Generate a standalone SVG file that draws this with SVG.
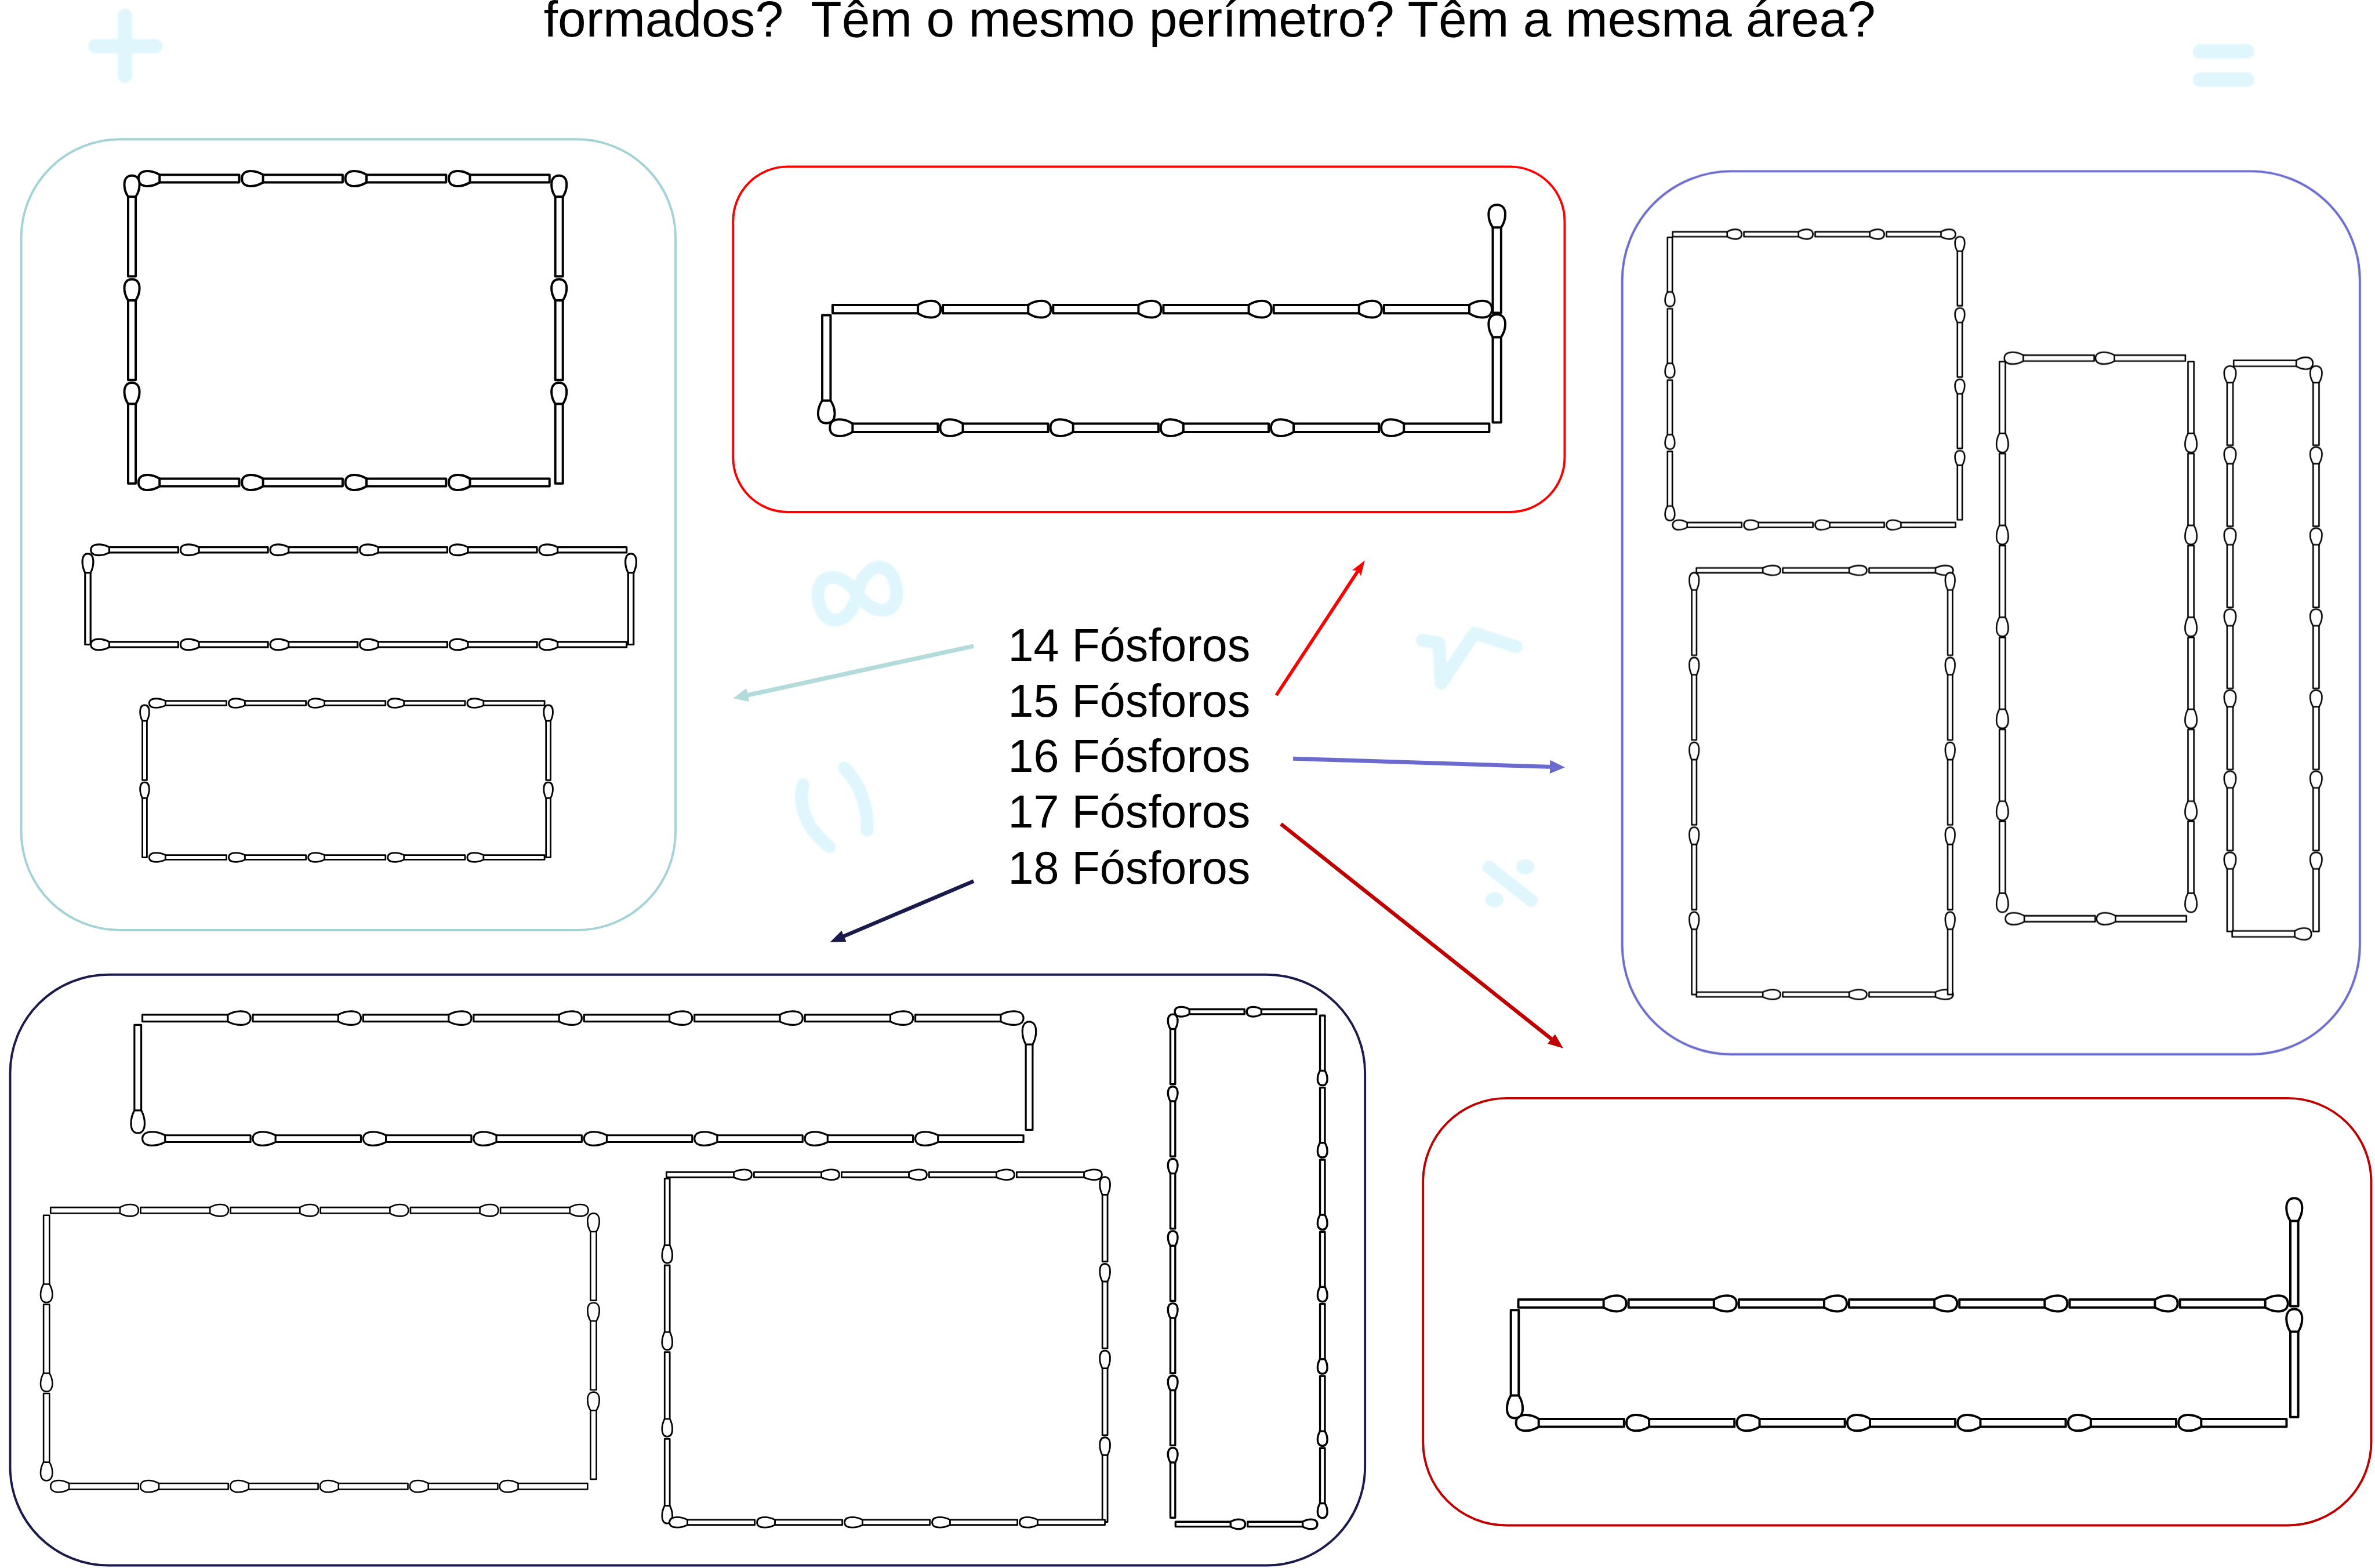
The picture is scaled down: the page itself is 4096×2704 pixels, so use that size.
<svg xmlns="http://www.w3.org/2000/svg" width="4096" height="2704" viewBox="0 0 4096 2704">
<defs>
<style>
  .sym{fill:none;stroke:#DFF6FD;stroke-linecap:round;stroke-linejoin:round}
  .dot{fill:#DFF6FD}
  .box{fill:none;stroke-width:1.5}
  .lbl{font-family:"Liberation Sans",Arial,sans-serif;font-size:30.3px;fill:#000}
  .ttl{font-family:"Liberation Sans",Arial,sans-serif;font-size:33.5px;fill:#000;white-space:pre}
  .fig{fill:#fff;stroke:#000;stroke-linejoin:round}
  .ln{fill:none}
</style>
<filter id="soft" x="-10%" y="-10%" width="120%" height="120%"><feGaussianBlur stdDeviation="0.5"/></filter>

<!-- one match: head at x=0, stick to x=100, thickness 10 (unit space) -->
<g id="m">
  <rect x="20" y="-5" width="80" height="10" vector-effect="non-scaling-stroke"/>
  <path d="M21,-5 C17,-8.5 13,-10 9,-10 C3,-10 0,-6 0,0 C0,6 3,10 9,10 C13,10 17,8.5 21,5 Z" vector-effect="non-scaling-stroke"/>
</g>

<!-- sized variants: l = head left, r = head right, t = head on top, b = head at bottom -->
<g id="A1l"><use href="#m" transform="scale(.665,.5)"/></g>
<g id="A1t"><use href="#m" transform="rotate(90) scale(.665,.5)"/></g>
<g id="A2l"><use href="#m" transform="scale(.577,.36)"/></g>
<g id="A2t"><use href="#m" transform="rotate(90) scale(.60,.36)"/></g>
<g id="A3l"><use href="#m" transform="scale(.51,.30)"/></g>
<g id="A3t"><use href="#m" transform="rotate(90) scale(.495,.30)"/></g>

<g id="Bl"><use href="#m" transform="scale(.713,.55)"/></g>
<g id="Br"><use href="#m" transform="scale(-.713,.55)"/></g>
<g id="Bt"><use href="#m" transform="rotate(90) scale(.713,.55)"/></g>
<g id="Bb"><use href="#m" transform="rotate(-90) scale(.713,.55)"/></g>

<g id="C1l"><use href="#m" transform="scale(.456,.32)"/></g>
<g id="C1r"><use href="#m" transform="scale(-.456,.32)"/></g>
<g id="C1t"><use href="#m" transform="rotate(90) scale(.456,.32)"/></g>
<g id="C1b"><use href="#m" transform="rotate(-90) scale(.456,.32)"/></g>
<g id="C2r"><use href="#m" transform="scale(-.555,.32)"/></g>
<g id="C2t"><use href="#m" transform="rotate(90) scale(.545,.32)"/></g>
<g id="C3l"><use href="#m" transform="scale(.593,.39)"/></g>
<g id="C3b"><use href="#m" transform="rotate(-90) scale(.60,.39)"/></g>
<g id="C4r"><use href="#m" transform="scale(-.523,.39)"/></g>
<g id="C4t"><use href="#m" transform="rotate(90) scale(.523,.39)"/></g>

<g id="Dl"><use href="#m" transform="scale(.713,.52)"/></g>
<g id="Dr"><use href="#m" transform="scale(-.713,.52)"/></g>
<g id="Dt"><use href="#m" transform="rotate(90) scale(.713,.52)"/></g>
<g id="Db"><use href="#m" transform="rotate(-90) scale(.713,.52)"/></g>

<g id="E1l"><use href="#m" transform="scale(.714,.45)"/></g>
<g id="E1r"><use href="#m" transform="scale(-.714,.45)"/></g>
<g id="E1t"><use href="#m" transform="rotate(90) scale(.714,.45)"/></g>
<g id="E1b"><use href="#m" transform="rotate(-90) scale(.714,.45)"/></g>
<g id="E2l"><use href="#m" transform="scale(.58,.39)"/></g>
<g id="E2r"><use href="#m" transform="scale(-.58,.39)"/></g>
<g id="E2t"><use href="#m" transform="rotate(90) scale(.575,.39)"/></g>
<g id="E2b"><use href="#m" transform="rotate(-90) scale(.575,.39)"/></g>
<g id="E3l"><use href="#m" transform="scale(.563,.34)"/></g>
<g id="E3r"><use href="#m" transform="scale(-.563,.34)"/></g>
<g id="E3t"><use href="#m" transform="rotate(90) scale(.558,.34)"/></g>
<g id="E3b"><use href="#m" transform="rotate(-90) scale(.558,.34)"/></g>
<g id="E4l"><use href="#m" transform="scale(.46,.32)"/></g>
<g id="E4r"><use href="#m" transform="scale(-.46,.32)"/></g>
<g id="E4t"><use href="#m" transform="rotate(90) scale(.461,.32)"/></g>
<g id="E4b"><use href="#m" transform="rotate(-90) scale(.461,.32)"/></g>

<marker id="ah-teal" viewBox="0 0 10 9" refX="5" refY="4.5" markerWidth="10" markerHeight="9" markerUnits="userSpaceOnUse" orient="auto"><path d="M0,0 L10,4.5 L0,9 Z" fill="#B3DBDC"/></marker>
<marker id="ah-red" viewBox="0 0 10 7" refX="5" refY="3.5" markerWidth="10" markerHeight="7" markerUnits="userSpaceOnUse" orient="auto"><path d="M0,0 L10,3.5 L0,7 L2,3.5 Z" fill="#FF0000"/></marker>
<marker id="ah-purple" viewBox="0 0 10 9" refX="5" refY="4.5" markerWidth="10" markerHeight="9" markerUnits="userSpaceOnUse" orient="auto"><path d="M0,0 L10,4.5 L0,9 Z" fill="#6B6BCF"/></marker>
<marker id="ah-darkred" viewBox="0 0 10 8" refX="5" refY="4" markerWidth="10" markerHeight="8" markerUnits="userSpaceOnUse" orient="auto"><path d="M0,0 L10,4 L0,8 Z" fill="#C00000"/></marker>
<marker id="ah-navy" viewBox="0 0 10 8" refX="5" refY="4" markerWidth="10" markerHeight="8" markerUnits="userSpaceOnUse" orient="auto"><path d="M0,0 L10,4 L0,8 Z" fill="#1A1A4C"/></marker>
</defs>

<rect width="4096" height="2704" fill="#fff"/>

<g transform="scale(2.612245)">

<!-- faint maths symbols in the background -->
<g id="simbolos" filter="url(#soft)">
  <path class="sym" stroke-width="9.5" d="M63,30.5 H102.5 M82.5,10.5 V50"/>
  <path class="sym" stroke-width="9.5" d="M1452.5,34 H1483.5 M1452.5,52.5 H1483.5"/>
  <path class="sym" stroke-width="8.5" transform="translate(566,392) rotate(-12)" d="M0,0 C8,-19 26,-19 26,0 C26,19 8,19 0,0 C-8,-19 -26,-19 -26,0 C-26,19 -8,19 0,0 Z"/>
  <path class="sym" stroke-width="8.5" d="M939,422.6 L950,424.5 L951.5,451 L973.5,418 L1001,427"/>
  <path class="sym" stroke-width="8.5" d="M983,572.5 L1011,594.5"/>
  <ellipse class="dot" cx="1007" cy="572.2" rx="6" ry="5"/>
  <ellipse class="dot" cx="986.6" cy="594" rx="6" ry="5"/>
  <path class="sym" stroke-width="8.5" d="M530.2,518 C527.5,530 530,545 547.5,559"/>
  <path class="sym" stroke-width="8.5" d="M557.5,507 C567,517 573,530 572.5,548"/>
</g>

<text class="ttl" x="359" y="24">formados?  Têm o mesmo perímetro? Têm a mesma área?</text>

<!-- centre list -->
<g id="lista">
  <text class="lbl" x="665.5" y="436.3">14 Fósforos</text>
  <text class="lbl" x="665.5" y="473.2">15 Fósforos</text>
  <text class="lbl" x="665.5" y="509.5">16 Fósforos</text>
  <text class="lbl" x="665.5" y="546.4">17 Fósforos</text>
  <text class="lbl" x="665.5" y="583.3">18 Fósforos</text>
</g>

<!-- 14 matches -->
<g id="no-14">
  <rect class="box" x="14" y="92" width="432" height="522" rx="65" stroke="#A3D3D6"/>
  <g class="fig" stroke-width="4.0">
    <use href="#A1l" x="91.4" y="117.9"/><use href="#A1l" x="159.7" y="117.9"/><use href="#A1l" x="228" y="117.9"/><use href="#A1l" x="296.3" y="117.9"/>
    <use href="#A1l" x="91.4" y="318.5"/><use href="#A1l" x="159.7" y="318.5"/><use href="#A1l" x="228" y="318.5"/><use href="#A1l" x="296.3" y="318.5"/>
    <use href="#A1t" x="87.1" y="115.9"/><use href="#A1t" x="87.1" y="184.3"/><use href="#A1t" x="87.1" y="252.7"/>
    <use href="#A1t" x="369.1" y="115.9"/><use href="#A1t" x="369.1" y="184.3"/><use href="#A1t" x="369.1" y="252.7"/>
  </g>
  <g class="fig" stroke-width="3.2">
    <use href="#A2l" x="60" y="363"/><use href="#A2l" x="119.2" y="363"/><use href="#A2l" x="178.4" y="363"/><use href="#A2l" x="237.6" y="363"/><use href="#A2l" x="296.8" y="363"/><use href="#A2l" x="356" y="363"/>
    <use href="#A2l" x="60" y="425.5"/><use href="#A2l" x="119.2" y="425.5"/><use href="#A2l" x="178.4" y="425.5"/><use href="#A2l" x="237.6" y="425.5"/><use href="#A2l" x="296.8" y="425.5"/><use href="#A2l" x="356" y="425.5"/>
    <use href="#A2t" x="58" y="365.5"/><use href="#A2t" x="416.5" y="365.5"/>
  </g>
  <g class="fig" stroke-width="2.8">
    <use href="#A3l" x="98.5" y="464.2"/><use href="#A3l" x="151" y="464.2"/><use href="#A3l" x="203.5" y="464.2"/><use href="#A3l" x="256" y="464.2"/><use href="#A3l" x="308.5" y="464.2"/>
    <use href="#A3l" x="98.5" y="566"/><use href="#A3l" x="151" y="566"/><use href="#A3l" x="203.5" y="566"/><use href="#A3l" x="256" y="566"/><use href="#A3l" x="308.5" y="566"/>
    <use href="#A3t" x="95.5" y="465.5"/><use href="#A3t" x="95.5" y="516.5"/>
    <use href="#A3t" x="362" y="465.5"/><use href="#A3t" x="362" y="516.5"/>
  </g>
</g>

<!-- 15 matches -->
<g id="no-15">
  <rect class="box" x="484" y="110" width="549" height="228" rx="36" stroke="#FF0000"/>
  <g class="fig" stroke-width="4.0">
    <use href="#Br" x="621" y="204.1"/><use href="#Br" x="693.8" y="204.1"/><use href="#Br" x="766.6" y="204.1"/><use href="#Br" x="839.4" y="204.1"/><use href="#Br" x="912.2" y="204.1"/><use href="#Br" x="985" y="204.1"/>
    <use href="#Bl" x="547.9" y="282.4"/><use href="#Bl" x="620.7" y="282.4"/><use href="#Bl" x="693.5" y="282.4"/><use href="#Bl" x="766.3" y="282.4"/><use href="#Bl" x="839.1" y="282.4"/><use href="#Bl" x="911.9" y="282.4"/>
    <use href="#Bb" x="545.6" y="279.4"/>
    <use href="#Bt" x="988.3" y="135.2"/><use href="#Bt" x="988.3" y="207.6"/>
  </g>
</g>

<!-- 16 matches -->
<g id="no-16">
  <rect class="box" x="1071" y="113" width="487" height="583" rx="72" stroke="#6B6BD0"/>
  <g class="fig" stroke-width="2.6">
    <use href="#C1r" x="1149.9" y="154.6"/><use href="#C1r" x="1196.95" y="154.6"/><use href="#C1r" x="1244" y="154.6"/><use href="#C1r" x="1291.05" y="154.6"/>
    <use href="#C1b" x="1102.5" y="202.3"/><use href="#C1b" x="1102.5" y="249.4"/><use href="#C1b" x="1102.5" y="296.5"/><use href="#C1b" x="1102.5" y="343.6"/>
    <use href="#C1t" x="1293.9" y="156.2"/><use href="#C1t" x="1293.9" y="203.3"/><use href="#C1t" x="1293.9" y="250.4"/><use href="#C1t" x="1293.9" y="297.5"/>
    <use href="#C1l" x="1104.3" y="346.5"/><use href="#C1l" x="1151.35" y="346.5"/><use href="#C1l" x="1198.4" y="346.5"/><use href="#C1l" x="1245.45" y="346.5"/>
  </g>
  <g class="fig" stroke-width="2.6">
    <use href="#C2r" x="1175.5" y="376.5"/><use href="#C2r" x="1232.5" y="376.5"/><use href="#C2r" x="1289.5" y="376.5"/>
    <use href="#C2r" x="1175.5" y="656.5"/><use href="#C2r" x="1232.5" y="656.5"/><use href="#C2r" x="1289.5" y="656.5"/>
    <use href="#C2t" x="1118.5" y="378"/><use href="#C2t" x="1118.5" y="434"/><use href="#C2t" x="1118.5" y="490"/><use href="#C2t" x="1118.5" y="546"/><use href="#C2t" x="1118.5" y="602"/>
    <use href="#C2t" x="1287.5" y="378"/><use href="#C2t" x="1287.5" y="434"/><use href="#C2t" x="1287.5" y="490"/><use href="#C2t" x="1287.5" y="546"/><use href="#C2t" x="1287.5" y="602"/>
  </g>
  <g class="fig" stroke-width="2.6">
    <use href="#C3l" x="1323.3" y="236.4"/><use href="#C3l" x="1383.5" y="236.4"/>
    <use href="#C3b" x="1322" y="298.7"/><use href="#C3b" x="1322" y="359.4"/><use href="#C3b" x="1322" y="420.1"/><use href="#C3b" x="1322" y="480.8"/><use href="#C3b" x="1322" y="541.5"/><use href="#C3b" x="1322" y="602.2"/>
    <use href="#C3b" x="1446.5" y="298.7"/><use href="#C3b" x="1446.5" y="359.4"/><use href="#C3b" x="1446.5" y="420.1"/><use href="#C3b" x="1446.5" y="480.8"/><use href="#C3b" x="1446.5" y="541.5"/><use href="#C3b" x="1446.5" y="602.2"/>
    <use href="#C3l" x="1324" y="606.5"/><use href="#C3l" x="1384.2" y="606.5"/>
  </g>
  <g class="fig" stroke-width="2.6">
    <use href="#C4r" x="1527" y="239.8"/>
    <use href="#C4t" x="1472.3" y="241.6"/><use href="#C4t" x="1472.3" y="295.1"/><use href="#C4t" x="1472.3" y="348.6"/><use href="#C4t" x="1472.3" y="402.1"/><use href="#C4t" x="1472.3" y="455.6"/><use href="#C4t" x="1472.3" y="509.1"/><use href="#C4t" x="1472.3" y="562.6"/>
    <use href="#C4t" x="1529.1" y="241.6"/><use href="#C4t" x="1529.1" y="295.1"/><use href="#C4t" x="1529.1" y="348.6"/><use href="#C4t" x="1529.1" y="402.1"/><use href="#C4t" x="1529.1" y="455.6"/><use href="#C4t" x="1529.1" y="509.1"/><use href="#C4t" x="1529.1" y="562.6"/>
    <use href="#C4r" x="1526" y="616.5"/>
  </g>
</g>

<!-- 17 matches -->
<g id="no-17">
  <rect class="box" x="939.5" y="725" width="626" height="282" rx="55" stroke="#C00000"/>
  <g class="fig" stroke-width="4.0">
    <use href="#Dr" x="1073.7" y="860.5"/><use href="#Dr" x="1146.5" y="860.5"/><use href="#Dr" x="1219.3" y="860.5"/><use href="#Dr" x="1292.1" y="860.5"/><use href="#Dr" x="1364.9" y="860.5"/><use href="#Dr" x="1437.7" y="860.5"/><use href="#Dr" x="1510.5" y="860.5"/>
    <use href="#Dl" x="1000.9" y="939.3"/><use href="#Dl" x="1073.8" y="939.3"/><use href="#Dl" x="1146.7" y="939.3"/><use href="#Dl" x="1219.6" y="939.3"/><use href="#Dl" x="1292.5" y="939.3"/><use href="#Dl" x="1365.4" y="939.3"/><use href="#Dl" x="1438.3" y="939.3"/>
    <use href="#Db" x="1000.1" y="936.2"/>
    <use href="#Dt" x="1514.7" y="791"/><use href="#Dt" x="1514.7" y="864.2"/>
  </g>
</g>

<!-- 18 matches -->
<g id="no-18">
  <rect class="box" x="6.7" y="643.4" width="894.5" height="390" rx="65" stroke="#1A1A4C"/>
  <g class="fig" stroke-width="3.2">
    <use href="#E1r" x="165.4" y="672.1"/><use href="#E1r" x="238.3" y="672.1"/><use href="#E1r" x="311.2" y="672.1"/><use href="#E1r" x="384.1" y="672.1"/><use href="#E1r" x="457" y="672.1"/><use href="#E1r" x="529.9" y="672.1"/><use href="#E1r" x="602.8" y="672.1"/><use href="#E1r" x="675.7" y="672.1"/>
    <use href="#E1l" x="94" y="751.7"/><use href="#E1l" x="166.9" y="751.7"/><use href="#E1l" x="239.8" y="751.7"/><use href="#E1l" x="312.7" y="751.7"/><use href="#E1l" x="385.6" y="751.7"/><use href="#E1l" x="458.5" y="751.7"/><use href="#E1l" x="531.4" y="751.7"/><use href="#E1l" x="604.3" y="751.7"/>
    <use href="#E1b" x="91" y="748"/>
    <use href="#E1t" x="679.5" y="674.5"/>
  </g>
  <g class="fig" stroke-width="2.6">
    <use href="#E2r" x="91.4" y="799"/><use href="#E2r" x="150.8" y="799"/><use href="#E2r" x="210.2" y="799"/><use href="#E2r" x="269.6" y="799"/><use href="#E2r" x="329" y="799"/><use href="#E2r" x="388.4" y="799"/>
    <use href="#E2b" x="30.7" y="859.8"/><use href="#E2b" x="30.7" y="918.6"/><use href="#E2b" x="30.7" y="977.4"/>
    <use href="#E2t" x="391.8" y="801"/><use href="#E2t" x="391.8" y="860"/><use href="#E2t" x="391.8" y="919"/>
    <use href="#E2l" x="33.4" y="981.2"/><use href="#E2l" x="92.7" y="981.2"/><use href="#E2l" x="152" y="981.2"/><use href="#E2l" x="211.3" y="981.2"/><use href="#E2l" x="270.6" y="981.2"/><use href="#E2l" x="329.9" y="981.2"/>
  </g>
  <g class="fig" stroke-width="2.8">
    <use href="#E3r" x="496.3" y="775.5"/><use href="#E3r" x="554.1" y="775.5"/><use href="#E3r" x="611.9" y="775.5"/><use href="#E3r" x="669.7" y="775.5"/><use href="#E3r" x="727.5" y="775.5"/>
    <use href="#E3b" x="440.5" y="833.8"/><use href="#E3b" x="440.5" y="891.1"/><use href="#E3b" x="440.5" y="948.4"/><use href="#E3b" x="440.5" y="1005.7"/>
    <use href="#E3t" x="729.5" y="777"/><use href="#E3t" x="729.5" y="834.3"/><use href="#E3t" x="729.5" y="891.6"/><use href="#E3t" x="729.5" y="948.9"/>
    <use href="#E3l" x="442" y="1005"/><use href="#E3l" x="499.8" y="1005"/><use href="#E3l" x="557.6" y="1005"/><use href="#E3l" x="615.4" y="1005"/><use href="#E3l" x="673.2" y="1005"/>
  </g>
  <g class="fig" stroke-width="3.4">
    <use href="#E4l" x="775.6" y="667.9"/><use href="#E4l" x="823.1" y="667.9"/>
    <use href="#E4t" x="774.3" y="669.6"/><use href="#E4t" x="774.3" y="717.3"/><use href="#E4t" x="774.3" y="765"/><use href="#E4t" x="774.3" y="812.7"/><use href="#E4t" x="774.3" y="860.4"/><use href="#E4t" x="774.3" y="908.1"/><use href="#E4t" x="774.3" y="955.8"/>
    <use href="#E4b" x="873.1" y="716.5"/><use href="#E4b" x="873.1" y="764.1"/><use href="#E4b" x="873.1" y="811.7"/><use href="#E4b" x="873.1" y="859.3"/><use href="#E4b" x="873.1" y="906.9"/><use href="#E4b" x="873.1" y="954.5"/><use href="#E4b" x="873.1" y="1002.1"/>
    <use href="#E4r" x="822.1" y="1006.2"/><use href="#E4r" x="869.7" y="1006.2"/>
  </g>
</g>

<!-- arrows from the list to each group -->
<g id="conectores" class="ln">
  <path d="M642.8,426.5 L488.9,459.9" stroke="#B3DBDC" stroke-width="2.9" marker-end="url(#ah-teal)"/>
  <path d="M842.6,459 L898.3,374.2" stroke="#FF0000" stroke-width="2.2" marker-end="url(#ah-red)"/>
  <path d="M853.7,500.8 L1028.2,506.4" stroke="#6B6BCF" stroke-width="2.7" marker-end="url(#ah-purple)"/>
  <path d="M845.7,544 L1028.1,688.9" stroke="#C00000" stroke-width="2.5" marker-end="url(#ah-darkred)"/>
  <path d="M642.8,581.7 L552.6,620" stroke="#1A1A4C" stroke-width="2.5" marker-end="url(#ah-navy)"/>
</g>

</g>
</svg>
